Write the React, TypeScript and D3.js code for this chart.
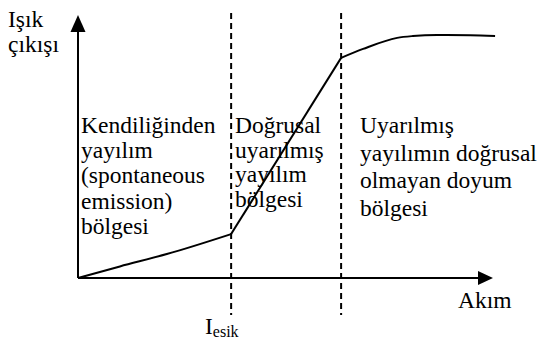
import React from "react";
import * as d3 from "d3";

// light output vs current, arbitrary units
const spontCurrent = [0, 1.01, 2.14, 3.69];
const spontLight = [0, 0.44, 0.91, 1.67];
const linearCurrent = [3.69, 6.34];
const linearLight = [1.67, 8.37];
const satCurrent = [6.34, 6.87, 7.69, 8.07, 8.65, 9.45, 10.05];
const satLight = [8.37, 8.71, 9.13, 9.2, 9.24, 9.23, 9.2];

const thresholds = [3.69, 6.34];

const yLabel = ["Işık", "çıkışı"];
const xLabel = "Akım";
const leftText = ["Kendiliğinden", "yayılım", "(spontaneous", "emission)", "bölgesi"];
const midText = ["Doğrusal", "uyarılmış", "yayılım", "bölgesi"];
const rightText = ["Uyarılmış", "yayılımın doğrusal", "olmayan doyum", "bölgesi"];

const W = 539, H = 342;
const font = "Liberation Serif";

export default function App() {
  const x = d3.scaleLinear().domain([0, 10]).range([78, 493]);
  const y = d3.scaleLinear().domain([0, 10]).range([278, 15]);

  const line = d3.line<[number, number]>().x(d => x(d[0])).y(d => y(d[1]));
  const smooth = d3.line<[number, number]>().x(d => x(d[0])).y(d => y(d[1])).curve(d3.curveMonotoneX);
  const zip = (a: number[], b: number[]) => a.map((v, i) => [v, b[i]] as [number, number]);

  const x0 = x(0), y0 = y(0), xEnd = x(10), yEnd = y(10);

  const block = (lines: string[], px: number, py: number, lh: number) =>
    lines.map((t, i) => (
      <text key={i} x={px} y={py + i * lh} style={{ fontFamily: font, fontSize: "23.5px" }}>{t}</text>
    ));

  return (
    <svg width={W} height={H} style={{ position: "absolute", left: 0, top: 0, background: "#fff" }}>
      <g fill="#000">
        {block(yLabel, 8, 27, 25)}
        <text x={458} y={308} style={{ fontFamily: font, fontSize: "23.5px" }}>{xLabel}</text>
        <text x={205} y={334} style={{ fontFamily: font, fontSize: "23.5px" }}>I<tspan style={{ fontSize: "16px" }} dy={3}>esik</tspan></text>
        {block(leftText, 81, 133, 25.2)}
        {block(midText, 235, 133, 24.7)}
        {block(rightText, 360, 133, 27.5)}
      </g>

      {thresholds.map((t, i) => (
        <line key={i} x1={x(t)} x2={x(t)} y1={yEnd - 2} y2={y0 + 37}
          stroke="#000" strokeWidth={2} strokeDasharray="6,4" />
      ))}

      {/* axes */}
      <line x1={x0} x2={x0} y1={y0} y2={yEnd + 16} stroke="#000" strokeWidth={2} />
      <polygon points={`${x0},${yEnd} ${x0 - 7.5},${yEnd + 17} ${x0 + 7.5},${yEnd + 17}`} fill="#000" />
      <line x1={x0} x2={xEnd - 14} y1={y0} y2={y0} stroke="#000" strokeWidth={2} />
      <polygon points={`${xEnd},${y0} ${xEnd - 15},${y0 - 7} ${xEnd - 15},${y0 + 7}`} fill="#000" />

      <g fill="none" stroke="#000" strokeWidth={2}>
        <path d={smooth(zip(spontCurrent, spontLight)) || ""} />
        <path d={line(zip(linearCurrent, linearLight)) || ""} />
        <path d={smooth(zip(satCurrent, satLight)) || ""} />
      </g>
    </svg>
  );
}
